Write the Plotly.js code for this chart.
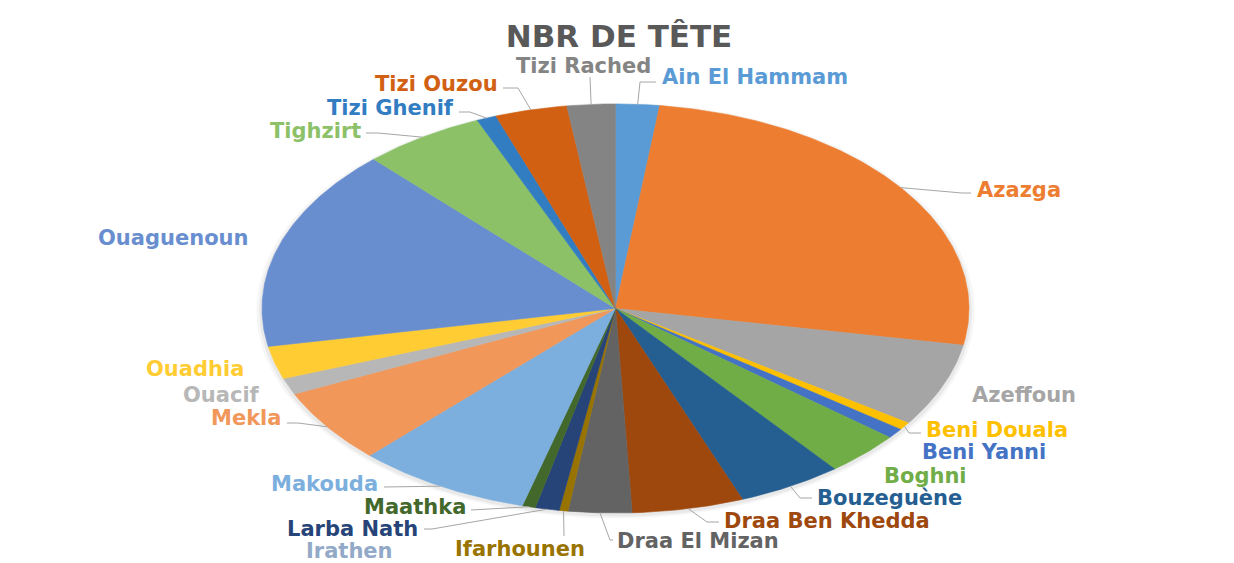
<!DOCTYPE html>
<html><head><meta charset="utf-8">
<script src="https://cdn.plot.ly/plotly-3.0.1.min.js"></script>
<style>html,body{margin:0;padding:0;background:#fff}#chart{width:1234px;height:563px}</style>
</head><body><div id="chart"></div>
<script>
// ---- DATA ----
const communes = ["Ain El Hammam","Azazga","Azeffoun","Beni Douala","Beni Yanni","Boghni","Bouzeguène","Draa Ben Khedda","Draa El Mizan","Ifarhounen","Irathen","Larba Nath","Maathka","Makouda","Mekla","Ouacif","Ouadhia","Ouaguenoun","Tighzirt","Tizi Ghenif","Tizi Ouzou","Tizi Rached"];
const tetes = [2000,25900,6600,600,800,3500,4800,5100,2900,400,0,1100,600,8000,5900,1300,2600,16000,5600,900,3300,2200];
const couleurs = ["#5B9BD5","#ED7D31","#A5A5A5","#FFC000","#4472C4","#70AD47","#255E91","#9E480E","#636363","#997300","#93A9C8","#264478","#43682B","#7CAFDD","#F1975A","#B7B7B7","#FFCD33","#698ED0","#8CC168","#327DC2","#D26012","#848484"];
const titre = "NBR DE TÊTE";

// ---- LAYOUT CONSTANTS (pixels) ----
const W = 1234, H = 563, CX = 615.5, CY = 308.5, RX = 353.5, RY = 204.5;
const labelLayout = {
  "Ain El Hammam":  {x:660, y:77,  a:"left",  line:[[640,82],[656,82]]},
  "Azazga":         {x:975, y:190, a:"left",  line:[[962,193],[971,193]]},
  "Azeffoun":       {x:970, y:395, a:"left"},
  "Beni Douala":    {x:924, y:430, a:"left",  line:[[909,433],[921,433]]},
  "Beni Yanni":     {x:920, y:452, a:"left"},
  "Boghni":         {x:882, y:476, a:"left"},
  "Bouzeguène":     {x:815, y:498, a:"left",  line:[[800,498],[812,498]]},
  "Draa Ben Khedda":{x:722, y:521, a:"left",  line:[[707,522],[719,522]]},
  "Draa El Mizan":  {x:615, y:541, a:"left",  line:[[610,540],[613,540]]},
  "Ifarhounen":     {x:587, y:549, a:"right", line:[[564,536]]},
  "Irathen":        {x:395, y:551, a:"right"},
  "Larba Nath":     {x:420, y:529, a:"right", line:[[432,529],[424,529]]},
  "Maathka":        {x:468, y:507, a:"right", line:[[478,510],[471,510]]},
  "Makouda":        {x:380, y:484, a:"right", line:[[392,487],[384,487]]},
  "Mekla":          {x:283, y:418, a:"right", line:[[298,423],[287,423]]},
  "Ouacif":         {x:262, y:395, a:"right"},
  "Ouadhia":        {x:246, y:369, a:"right"},
  "Ouaguenoun":     {x:250, y:238, a:"right"},
  "Tighzirt":       {x:363, y:131, a:"right", line:[[378,133],[366,133]]},
  "Tizi Ghenif":    {x:456, y:108, a:"right", line:[[470,112],[459,112]]},
  "Tizi Ouzou":     {x:500, y:84,  a:"right", line:[[518,88],[503,88]]},
  "Tizi Rached":    {x:583, y:66,  a:"center", line:[[590,77]]}
};

const px2x = p => (p - CX) / RX;
const py2y = p => (CY - p) / RY;

const total = tetes.reduce((s, v) => s + v, 0);
const traces = [];

// soft shadow
[[1.016, 0.035], [1.008, 0.05]].forEach(([k, op]) => {
  const xs = [], ys = [];
  for (let d = 0; d <= 360; d += 2) { const r = d*Math.PI/180; xs.push(k*Math.sin(r)); ys.push(k*Math.cos(r) - 0.01); }
  traces.push({type:"scatter", mode:"lines", x:xs, y:ys, fill:"toself", fillcolor:"rgba(0,0,0,"+op+")", line:{width:0}, hoverinfo:"skip"});
});

let cum = 0;
const mids = {};
communes.forEach((name, i) => {
  const a0 = cum / total * 2 * Math.PI;
  cum += tetes[i];
  const a1 = cum / total * 2 * Math.PI;
  mids[name] = (a0 + a1) / 2;
  if (tetes[i] <= 0) return;
  const xs = [0], ys = [0];
  const n = Math.max(2, Math.ceil((a1 - a0) / (Math.PI / 360)));
  for (let k = 0; k <= n; k++) { const t = a0 + (a1 - a0) * k / n; xs.push(Math.sin(t)); ys.push(Math.cos(t)); }
  xs.push(0); ys.push(0);
  traces.push({type:"scatter", mode:"lines", x:xs, y:ys, fill:"toself", fillcolor:couleurs[i],
    line:{color:couleurs[i], width:0.6}, name:name, hoverinfo:"name"});
});

// leader lines
communes.forEach((name) => {
  const L = labelLayout[name];
  if (!L || !L.line) return;
  const m = mids[name];
  const xs = [Math.sin(m)], ys = [Math.cos(m)];
  L.line.forEach(p => { xs.push(px2x(p[0])); ys.push(py2y(p[1])); });
  traces.push({type:"scatter", mode:"lines", x:xs, y:ys, line:{color:"#A6A6A6", width:1}, hoverinfo:"skip"});
});

const annotations = communes.map((name, i) => {
  const L = labelLayout[name];
  return {x:px2x(L.x), y:py2y(L.y), xref:"x", yref:"y", text:name, showarrow:false,
    xanchor:L.a, yanchor:"middle",
    font:{family:"DejaVu Sans, sans-serif", size:21, color:couleurs[i], weight:700}};
});

const layout = {
  width:W, height:H, margin:{l:0,r:0,t:0,b:0},
  paper_bgcolor:"#fff", plot_bgcolor:"#fff", showlegend:false, hovermode:false,
  title:{text:titre, x:619/W, y:1-36/H, xanchor:"center", yanchor:"middle",
    font:{family:"DejaVu Sans, sans-serif", size:31, color:"#595959", weight:700}},
  xaxis:{range:[-CX/RX, (W-CX)/RX], visible:false, fixedrange:true},
  yaxis:{range:[-(H-CY)/RY, CY/RY], visible:false, fixedrange:true},
  annotations:annotations
};

Plotly.newPlot("chart", traces, layout, {displayModeBar:false, staticPlot:true});
</script>
</body></html>
